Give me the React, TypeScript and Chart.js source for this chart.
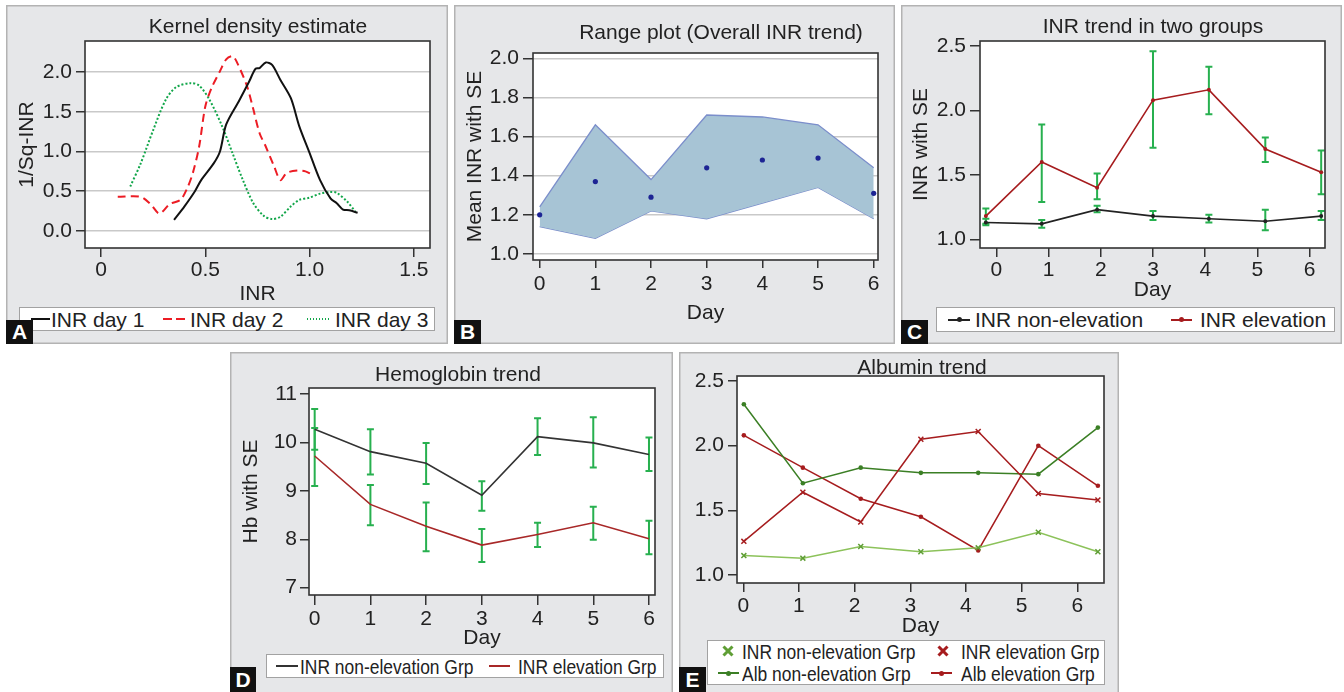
import React, { useEffect, useRef } from "react";
import { Chart, registerables } from "chart.js";
Chart.register(...registerables);

const FONT = "'Liberation Sans', Arial, Helvetica, sans-serif";
const TXT = "#222";

// ---------- Panel A: kernel density ----------
const kdeDay1X = [0.35, 0.40, 0.45, 0.48, 0.54, 0.57, 0.60, 0.66, 0.71, 0.74, 0.76, 0.79, 0.82, 0.86, 0.91, 0.95, 1.00, 1.05, 1.10, 1.13, 1.16, 1.19, 1.23];
const kdeDay1Y = [0.14, 0.31, 0.50, 0.64, 0.85, 1.00, 1.34, 1.63, 1.88, 2.04, 2.05, 2.12, 2.09, 1.90, 1.67, 1.32, 0.98, 0.64, 0.41, 0.35, 0.27, 0.26, 0.23];
const kdeDay2X = [0.08, 0.19, 0.24, 0.28, 0.33, 0.38, 0.41, 0.44, 0.47, 0.50, 0.53, 0.57, 0.60, 0.63, 0.65, 0.70, 0.73, 0.76, 0.79, 0.83, 0.86, 0.89, 0.94, 0.98, 1.01];
const kdeDay2Y = [0.43, 0.43, 0.33, 0.22, 0.34, 0.39, 0.52, 0.73, 1.06, 1.57, 1.80, 2.01, 2.16, 2.20, 2.13, 1.82, 1.53, 1.23, 1.06, 0.81, 0.64, 0.73, 0.76, 0.75, 0.71];
const kdeDay3X = [0.14, 0.19, 0.25, 0.31, 0.36, 0.43, 0.47, 0.52, 0.58, 0.63, 0.68, 0.73, 0.78, 0.82, 0.86, 0.91, 0.95, 1.00, 1.05, 1.10, 1.13, 1.18, 1.22];
const kdeDay3Y = [0.56, 0.85, 1.27, 1.65, 1.81, 1.86, 1.83, 1.65, 1.32, 0.98, 0.64, 0.35, 0.19, 0.15, 0.18, 0.31, 0.39, 0.42, 0.47, 0.49, 0.48, 0.37, 0.24];
const aXTicks = [0, 0.5, 1, 1.5];
const aXLabels = ["0", "0.5", "1.0", "1.5"];
const aYTicks = [0, 0.5, 1, 1.5, 2];
const aYLabels = ["0.0", "0.5", "1.0", "1.5", "2.0"];

// ---------- Panel B: range plot ----------
const days = [0, 1, 2, 3, 4, 5, 6];
const dayLabels = ["0", "1", "2", "3", "4", "5", "6"];
const bUpper = [1.24, 1.66, 1.38, 1.71, 1.70, 1.66, 1.44];
const bLower = [1.14, 1.08, 1.22, 1.18, 1.26, 1.34, 1.18];
const bMean = [1.20, 1.37, 1.29, 1.44, 1.48, 1.49, 1.31];
const bYTicks = [1.0, 1.2, 1.4, 1.6, 1.8, 2.0];
const bYLabels = ["1.0", "1.2", "1.4", "1.6", "1.8", "2.0"];

// ---------- Panel C: INR trend in two groups ----------
const cDayX = [-0.2, 0.87, 1.93, 3.0, 4.07, 5.15, 6.22];
const cNonMean = [1.13, 1.12, 1.23, 1.18, 1.16, 1.14, 1.18];
const cNonLo = [1.11, 1.09, 1.21, 1.15, 1.13, 1.07, 1.15];
const cNonHi = [1.16, 1.15, 1.26, 1.22, 1.19, 1.23, 1.22];
const cElevMean = [1.18, 1.60, 1.40, 2.08, 2.16, 1.70, 1.52];
const cElevLo = [1.12, 1.29, 1.31, 1.71, 1.97, 1.60, 1.35];
const cElevHi = [1.24, 1.89, 1.51, 2.46, 2.34, 1.79, 1.69];
const inrTicks = [1.0, 1.5, 2.0, 2.5];
const inrLabels = ["1.0", "1.5", "2.0", "2.5"];

// ---------- Panel D: Hemoglobin trend ----------
const dNonMean = [10.27, 9.81, 9.57, 8.91, 10.12, 9.99, 9.75];
const dNonLo = [9.85, 9.34, 9.14, 8.59, 9.74, 9.48, 9.41];
const dNonHi = [10.69, 10.27, 9.99, 9.20, 10.50, 10.52, 10.10];
const dElevMean = [9.72, 8.72, 8.27, 7.88, 8.10, 8.34, 8.01];
const dElevLo = [9.10, 8.29, 7.75, 7.53, 7.84, 7.99, 7.69];
const dElevHi = [10.30, 9.12, 8.76, 8.21, 8.34, 8.67, 8.38];
const hbTicks = [7, 8, 9, 10, 11];
const hbLabels = ["7", "8", "9", "10", "11"];

// ---------- Panel E: Albumin trend ----------
const eDayX = [0.01, 1.07, 2.11, 3.19, 4.22, 5.30, 6.37];
const eInrNon = [1.15, 1.13, 1.22, 1.18, 1.21, 1.33, 1.18];
const eInrElev = [1.26, 1.64, 1.41, 2.05, 2.11, 1.63, 1.58];
const eAlbNon = [2.32, 1.71, 1.83, 1.79, 1.79, 1.78, 2.14];
const eAlbElev = [2.08, 1.83, 1.59, 1.45, 1.19, 2.00, 1.69];

// ---------- colours ----------
const RED_DARK = "#a61c1e";
const ERR_GREEN = "#27b04f";
const GREEN_LIGHT = "#8cc25a";
const GREEN_LIGHT_MK = "#5f9e35";
const GREEN_DARK = "#3b7f25";

type Rect = { l: number; t: number; r: number; b: number };

const pts = (xs: number[], ys: number[]) => xs.map((x, i) => ({ x, y: ys[i] }));

function axis(o: {
  min: number; max: number; ticks: number[]; labels: string[]; size: number;
  tl: number; pad: number; title?: string; titlePad?: number; grid?: boolean;
}) {
  return {
    type: "linear",
    min: o.min,
    max: o.max,
    afterBuildTicks: (s: any) => { s.ticks = o.ticks.map((v) => ({ value: v })); },
    afterFit: (s: any) => { if (s.isHorizontal()) s.height = o.size; else s.width = o.size; },
    ticks: {
      autoSkip: false, maxRotation: 0, minRotation: 0, padding: o.pad, color: TXT,
      font: { size: 21, family: FONT },
      callback: (_v: any, i: number) => o.labels[i],
    },
    grid: {
      drawOnChartArea: !!o.grid, color: "#c9c9c9", lineWidth: 1.5,
      drawTicks: true, tickLength: o.tl, tickColor: "#333", tickWidth: 1.5,
    },
    border: { display: false },
    title: o.title
      ? { display: true, text: o.title, color: TXT, font: { size: 21, family: FONT }, padding: { top: o.titlePad, bottom: o.titlePad } }
      : { display: false },
  };
}

const plotBox = {
  id: "plotbox",
  beforeDraw(chart: any) {
    const { ctx, chartArea: a } = chart;
    ctx.save();
    ctx.fillStyle = "#ffffff";
    ctx.fillRect(a.left, a.top, a.right - a.left, a.bottom - a.top);
    ctx.restore();
  },
  afterDraw(chart: any) {
    const { ctx, chartArea: a } = chart;
    ctx.save();
    ctx.strokeStyle = "#333";
    ctx.lineWidth = 1.6;
    ctx.strokeRect(a.left, a.top, a.right - a.left, a.bottom - a.top);
    ctx.restore();
  },
};

function errorBars(sets: { x: number[]; lo: number[]; hi: number[] }[]) {
  return {
    id: "errbars",
    beforeDatasetsDraw(chart: any) {
      const { ctx, scales } = chart;
      const xs = scales.x, ys = scales.y;
      ctx.save();
      ctx.strokeStyle = ERR_GREEN;
      ctx.lineWidth = 2;
      sets.forEach((s) =>
        s.x.forEach((xv, i) => {
          const px = xs.getPixelForValue(xv);
          const p1 = ys.getPixelForValue(s.lo[i]);
          const p2 = ys.getPixelForValue(s.hi[i]);
          ctx.beginPath();
          ctx.moveTo(px, p1); ctx.lineTo(px, p2);
          ctx.moveTo(px - 3.5, p1); ctx.lineTo(px + 3.5, p1);
          ctx.moveTo(px - 3.5, p2); ctx.lineTo(px + 3.5, p2);
          ctx.stroke();
        })
      );
      ctx.restore();
    },
  };
}

function baseOptions(panel: Rect, plot: Rect, x: any, y: any) {
  return {
    responsive: false,
    animation: false,
    events: [],
    layout: { padding: { left: 0, top: plot.t - panel.t, right: panel.r - plot.r, bottom: 0 } },
    plugins: { legend: { display: false }, title: { display: false }, tooltip: { enabled: false } },
    scales: { x, y },
  };
}

function ChartCanvas({ panel, build }: { panel: Rect; build: () => any }) {
  const ref = useRef<HTMLCanvasElement>(null);
  useEffect(() => {
    const c = new Chart(ref.current as HTMLCanvasElement, build());
    return () => c.destroy();
  }, []);
  return (
    <canvas ref={ref} width={panel.r - panel.l} height={panel.b - panel.t}
      style={{ position: "absolute", left: 0, top: 0 }} />
  );
}

function Panel({ panel, build }: { panel: Rect; build: () => any }) {
  return (
    <div style={{
      position: "absolute", left: panel.l, top: panel.t, width: panel.r - panel.l, height: panel.b - panel.t,
      background: "#e6e7e9", boxShadow: "inset 0 0 0 1.5px #b3b3b3",
    }}>
      <ChartCanvas panel={panel} build={build} />
    </div>
  );
}

function Txt({ x, y, text, center, condensed, size = 21 }: { x: number; y: number; text: string; center?: boolean; condensed?: boolean; size?: number }) {
  if (center) {
    return (
      <div style={{ position: "absolute", left: x - 300, top: y - size / 2, width: 600, height: size, lineHeight: `${size}px`, fontSize: size, fontFamily: FONT, color: TXT, textAlign: "center", whiteSpace: "nowrap" }}>{text}</div>
    );
  }
  return (
    <div style={{ position: "absolute", left: x, top: y - size / 2, height: size, lineHeight: `${size}px`, fontSize: size, fontFamily: FONT, color: TXT, whiteSpace: "nowrap", transform: condensed ? "scaleX(0.83)" : undefined, transformOrigin: "left center" }}>{text}</div>
  );
}

function LegendBox({ l, t, r, b }: Rect) {
  return <div style={{ position: "absolute", left: l, top: t, width: r - l, height: b - t, background: "#fff", border: "1.5px solid #a2a2a2", boxSizing: "border-box" }} />;
}

function Seg({ x1, x2, y, color, th = 2, pattern }: { x1: number; x2: number; y: number; color: string; th?: number; pattern?: [number, number] }) {
  const bg = pattern
    ? `repeating-linear-gradient(to right, ${color} 0px, ${color} ${pattern[0]}px, transparent ${pattern[0]}px, transparent ${pattern[0] + pattern[1]}px)`
    : color;
  return <div style={{ position: "absolute", left: x1, top: y - th / 2, width: x2 - x1, height: th, background: bg }} />;
}

function Dot({ x, y, color, r = 2.5 }: { x: number; y: number; color: string; r?: number }) {
  return <div style={{ position: "absolute", left: x - r, top: y - r, width: 2 * r, height: 2 * r, borderRadius: "50%", background: color }} />;
}

function XMark({ x, y, color, s = 12 }: { x: number; y: number; color: string; s?: number }) {
  return (
    <svg width={s} height={s} style={{ position: "absolute", left: x - s / 2, top: y - s / 2 }}>
      <line x1={1.5} y1={1.5} x2={s - 1.5} y2={s - 1.5} stroke={color} strokeWidth={3} />
      <line x1={s - 1.5} y1={1.5} x2={1.5} y2={s - 1.5} stroke={color} strokeWidth={3} />
    </svg>
  );
}

function Tag({ l, t, r, b, letter }: Rect & { letter: string }) {
  return (
    <div style={{ position: "absolute", left: l, top: t, width: r - l, height: b - t, background: "#111", color: "#fff", fontFamily: FONT, fontWeight: "bold", fontSize: 21, lineHeight: `${b - t}px`, textAlign: "center" }}>{letter}</div>
  );
}

// ---------- panel geometry ----------
const pA: Rect = { l: 6, t: 5, r: 448, b: 344 };
const plA: Rect = { l: 85, t: 41, r: 430, b: 248 };
const pB: Rect = { l: 454, t: 5, r: 895, b: 344 };
const plB: Rect = { l: 533, t: 53, r: 878, b: 260 };
const pC: Rect = { l: 901, t: 5, r: 1342, b: 344 };
const plC: Rect = { l: 980, t: 41, r: 1325, b: 248 };
const pD: Rect = { l: 230, t: 352, r: 673, b: 694 };
const plD: Rect = { l: 309, t: 388, r: 655, b: 595 };
const pE: Rect = { l: 679, t: 352, r: 1119, b: 694 };
const plE: Rect = { l: 737, t: 376, r: 1104, b: 583 };

const buildA = () => ({
  type: "line",
  data: {
    datasets: [
      { data: pts(kdeDay1X, kdeDay1Y), borderColor: "#111", borderWidth: 2, pointRadius: 0, tension: 0.3, fill: false },
      { data: pts(kdeDay2X, kdeDay2Y), borderColor: "#ec1c24", borderWidth: 2, borderDash: [8, 5], pointRadius: 0, tension: 0.3, fill: false },
      { data: pts(kdeDay3X, kdeDay3Y), borderColor: "#12a64a", borderWidth: 2, borderDash: [2, 2], pointRadius: 0, tension: 0.3, fill: false },
    ],
  },
  options: baseOptions(pA, plA,
    axis({ min: -0.077, max: 1.577, ticks: aXTicks, labels: aXLabels, size: pA.b - plA.b, tl: 9, pad: 1, title: "INR", titlePad: 37.4 }),
    axis({ min: -0.214, max: 2.39, ticks: aYTicks, labels: aYLabels, size: plA.l - pA.l, tl: 9, pad: 4, title: "1/Sq-INR", titlePad: 8.4, grid: true })),
  plugins: [plotBox],
});

const buildB = () => ({
  type: "line",
  data: {
    datasets: [
      { data: pts(days, bMean), showLine: false, pointRadius: 2.6, pointBackgroundColor: "#1d2494", pointBorderColor: "#1d2494", pointBorderWidth: 0 },
      { data: pts(days, bUpper), borderColor: "#7b8ecb", borderWidth: 1.3, backgroundColor: "#a7c4d5", fill: "+1", pointRadius: 0, tension: 0 },
      { data: pts(days, bLower), borderColor: "#7b8ecb", borderWidth: 1.3, fill: false, pointRadius: 0, tension: 0 },
    ],
  },
  options: baseOptions(pB, plB,
    axis({ min: -0.12, max: 6.077, ticks: days, labels: dayLabels, size: pB.b - plB.b, tl: 8, pad: 4, title: "Day", titlePad: 18.4 }),
    axis({ min: 0.969, max: 2.027, ticks: bYTicks, labels: bYLabels, size: plB.l - pB.l, tl: 10, pad: 4, title: "Mean INR with SE", titlePad: 8.4, grid: true })),
  plugins: [plotBox],
});

const buildC = () => ({
  type: "line",
  data: {
    datasets: [
      { data: pts(cDayX, cNonMean), borderColor: "#222", borderWidth: 1.6, pointRadius: 2, pointBorderWidth: 0, pointBackgroundColor: "#222", pointBorderColor: "#222", tension: 0 },
      { data: pts(cDayX, cElevMean), borderColor: RED_DARK, borderWidth: 1.6, pointRadius: 2, pointBorderWidth: 0, pointBackgroundColor: RED_DARK, pointBorderColor: RED_DARK, tension: 0 },
    ],
  },
  options: baseOptions(pC, plC,
    axis({ min: -0.312, max: 6.293, ticks: days, labels: dayLabels, size: pC.b - plC.b, tl: 9, pad: 1, title: "Day", titlePad: 41.4 }),
    axis({ min: 0.9325, max: 2.539, ticks: inrTicks, labels: inrLabels, size: plC.l - pC.l, tl: 10, pad: 4, title: "INR with SE", titlePad: 7.4 })),
  plugins: [plotBox, errorBars([{ x: cDayX, lo: cNonLo, hi: cNonHi }, { x: cDayX, lo: cElevLo, hi: cElevHi }])],
});

const buildD = () => ({
  type: "line",
  data: {
    datasets: [
      { data: pts(days, dNonMean), borderColor: "#333", borderWidth: 1.6, pointRadius: 0, tension: 0 },
      { data: pts(days, dElevMean), borderColor: "#a82828", borderWidth: 1.6, pointRadius: 0, tension: 0 },
    ],
  },
  options: baseOptions(pD, plD,
    axis({ min: -0.102, max: 6.108, ticks: days, labels: dayLabels, size: pD.b - plD.b, tl: 10, pad: 1.4, title: "Day", titlePad: 43.4 }),
    axis({ min: 6.849, max: 11.124, ticks: hbTicks, labels: hbLabels, size: plD.l - pD.l, tl: 9, pad: 3, title: "Hb with SE", titlePad: 8.4 })),
  plugins: [plotBox, errorBars([{ x: days, lo: dNonLo, hi: dNonHi }, { x: days, lo: dElevLo, hi: dElevHi }])],
});

const buildE = () => ({
  type: "line",
  data: {
    datasets: [
      { data: pts(eDayX, eInrNon), borderColor: GREEN_LIGHT, borderWidth: 1.5, pointStyle: "crossRot", pointRadius: 3.5, pointBorderColor: GREEN_LIGHT_MK, pointBorderWidth: 1.5, tension: 0 },
      { data: pts(eDayX, eInrElev), borderColor: RED_DARK, borderWidth: 1.5, pointStyle: "crossRot", pointRadius: 3.5, pointBorderColor: RED_DARK, pointBorderWidth: 1.5, tension: 0 },
      { data: pts(eDayX, eAlbNon), borderColor: GREEN_DARK, borderWidth: 1.5, pointRadius: 2.3, pointBorderWidth: 0, pointBackgroundColor: GREEN_DARK, pointBorderColor: GREEN_DARK, tension: 0 },
      { data: pts(eDayX, eAlbElev), borderColor: RED_DARK, borderWidth: 1.5, pointRadius: 2.3, pointBorderWidth: 0, pointBackgroundColor: RED_DARK, pointBorderColor: RED_DARK, tension: 0 },
    ],
  },
  options: baseOptions(pE, plE,
    axis({ min: -0.113, max: 6.48, ticks: days, labels: dayLabels, size: pE.b - plE.b, tl: 9, pad: 2, title: "Day", titlePad: 55.4 }),
    axis({ min: 0.938, max: 2.539, ticks: inrTicks, labels: inrLabels, size: plE.l - pE.l, tl: 9, pad: 4 })),
  plugins: [plotBox],
});

export default function App() {
  return (
    <div style={{ position: "absolute", left: 0, top: 0, width: 1344, height: 692, overflow: "hidden", background: "#fff" }}>
      <Panel panel={pA} build={buildA} />
      <Panel panel={pB} build={buildB} />
      <Panel panel={pC} build={buildC} />
      <Panel panel={pD} build={buildD} />
      <Panel panel={pE} build={buildE} />

      {/* titles */}
      <Txt x={258} y={25} text="Kernel density estimate" center />
      <Txt x={721} y={31} text="Range plot (Overall INR trend)" center />
      <Txt x={1153} y={25} text="INR trend in two groups" center />
      <Txt x={458} y={373} text="Hemoglobin trend" center />
      <Txt x={922} y={366} text="Albumin trend" center />

      {/* legend A */}
      <LegendBox l={19} t={307} r={435} b={331} />
      <Seg x1={31} x2={50} y={319} color="#111" />
      <Txt x={51} y={319} text="INR day 1" />
      <Seg x1={163} x2={186} y={319} color="#ec1c24" th={2.5} pattern={[9, 4]} />
      <Txt x={190} y={319} text="INR day 2" />
      <Seg x1={307} x2={331} y={319} color="#12a64a" pattern={[1.5, 1.5]} />
      <Txt x={335} y={319} text="INR day 3" />

      {/* legend C */}
      <LegendBox l={936} t={307} r={1335} b={332} />
      <Seg x1={948} x2={970} y={319.5} color="#222" />
      <Dot x={959} y={319.5} color="#222" />
      <Txt x={975} y={319.5} text="INR non-elevation" />
      <Seg x1={1171} x2={1192} y={319.5} color={RED_DARK} />
      <Dot x={1181.5} y={319.5} color={RED_DARK} />
      <Txt x={1200} y={319.5} text="INR elevation" />

      {/* legend D */}
      <LegendBox l={266} t={654} r={664} b={678} />
      <Seg x1={276} x2={298} y={666} color="#333" th={1.6} />
      <Txt x={300} y={666} text="INR non-elevation Grp" condensed />
      <Seg x1={489} x2={510} y={666} color="#a82828" th={1.6} />
      <Txt x={518} y={666} text="INR elevation Grp" condensed />

      {/* legend E */}
      <LegendBox l={707} t={640} r={1105} b={685} />
      <XMark x={728} y={651} color={GREEN_LIGHT_MK} />
      <Txt x={742} y={651} text="INR non-elevation Grp" condensed />
      <XMark x={943} y={651} color={RED_DARK} />
      <Txt x={961} y={651} text="INR elevation Grp" condensed />
      <Seg x1={718} x2={739} y={673} color={GREEN_DARK} />
      <Dot x={728.5} y={673} color={GREEN_DARK} />
      <Txt x={742} y={673} text="Alb non-elevation Grp" condensed />
      <Seg x1={931} x2={952} y={673} color={RED_DARK} />
      <Dot x={941.5} y={673} color={RED_DARK} />
      <Txt x={961} y={673} text="Alb elevation Grp" condensed />

      {/* panel letters */}
      <Tag l={6} t={320} r={33} b={344} letter="A" />
      <Tag l={454} t={320} r={481} b={344} letter="B" />
      <Tag l={901} t={320} r={928} b={344} letter="C" />
      <Tag l={230} t={667} r={256} b={692} letter="D" />
      <Tag l={679} t={667} r={706} b={692} letter="E" />
    </div>
  );
}
